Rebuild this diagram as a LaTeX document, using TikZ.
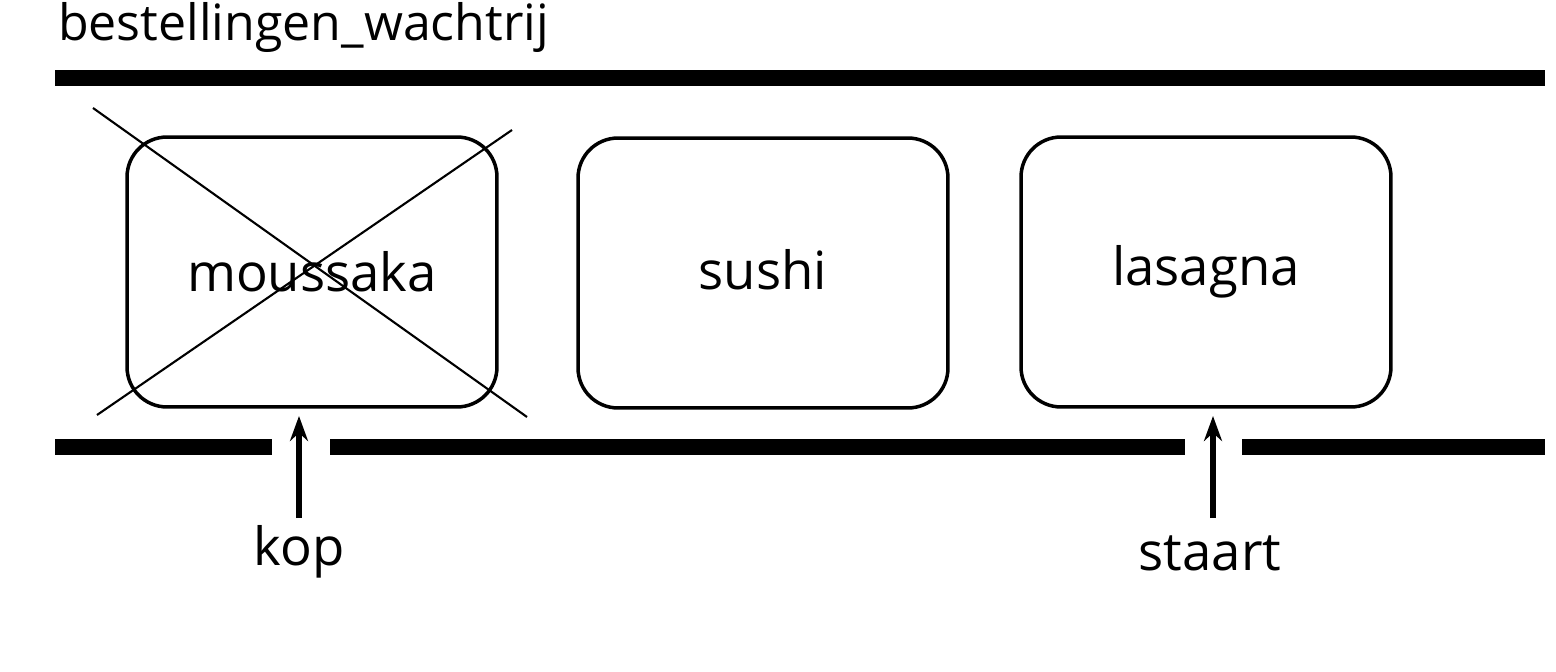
\documentclass[tikz,border=0pt]{standalone}
\usepackage{fontspec}
\setmainfont{Open Sans}
\usetikzlibrary{arrows.meta}
\tikzset{
  bar/.style={line width=0.32cm},
  order/.style={draw, line width=2pt, rounded corners=0.8cm, minimum width=7.4cm, minimum height=5.4cm, font=\fontsize{30}{36}\selectfont},
  ptr/.style={line width=3pt, -{Stealth[length=0.5cm,width=0.36cm]}},
  lbl/.style={font=\fontsize{30}{36}\selectfont}
}
\begin{document}
\begin{tikzpicture}[x=0.02cm,y=-0.02cm]
\useasboundingbox (0,0) rectangle (1556,672);
\node[anchor=west, font=\fontsize{28.5}{34}\selectfont] (titel) at (52,27) {bestellingen\_wachtrij};
% rails
\draw[bar] (55,78) -- (1545,78);
\draw[bar] (55,447) -- (272,447);
\draw[bar] (330,447) -- (1185,447);
\draw[bar] (1242,447) -- (1545,447);
% orders
\node[order] (moussaka) at (312,272) {moussaka};
\node[order] (sushi) at (763,273) {\raisebox{4pt}{sushi}};
\node[order] (lasagna) at (1206,272) {\raisebox{-3pt}{lasagna}};
\draw[line width=1.2pt] (93,108) -- (527,417);
\draw[line width=1.2pt] (97,415) -- (512,130);
% pointers
\node[lbl] (kop) at (299,552) {kop};
\node[lbl] (staart) at (1210,553) {staart};
\coordinate (kopdoel) at (299,416);
\coordinate (staartdoel) at (1213,416);
\draw[ptr] (299,518) -- (kopdoel);
\draw[ptr] (1213,518) -- (staartdoel);
\end{tikzpicture}
\end{document}
